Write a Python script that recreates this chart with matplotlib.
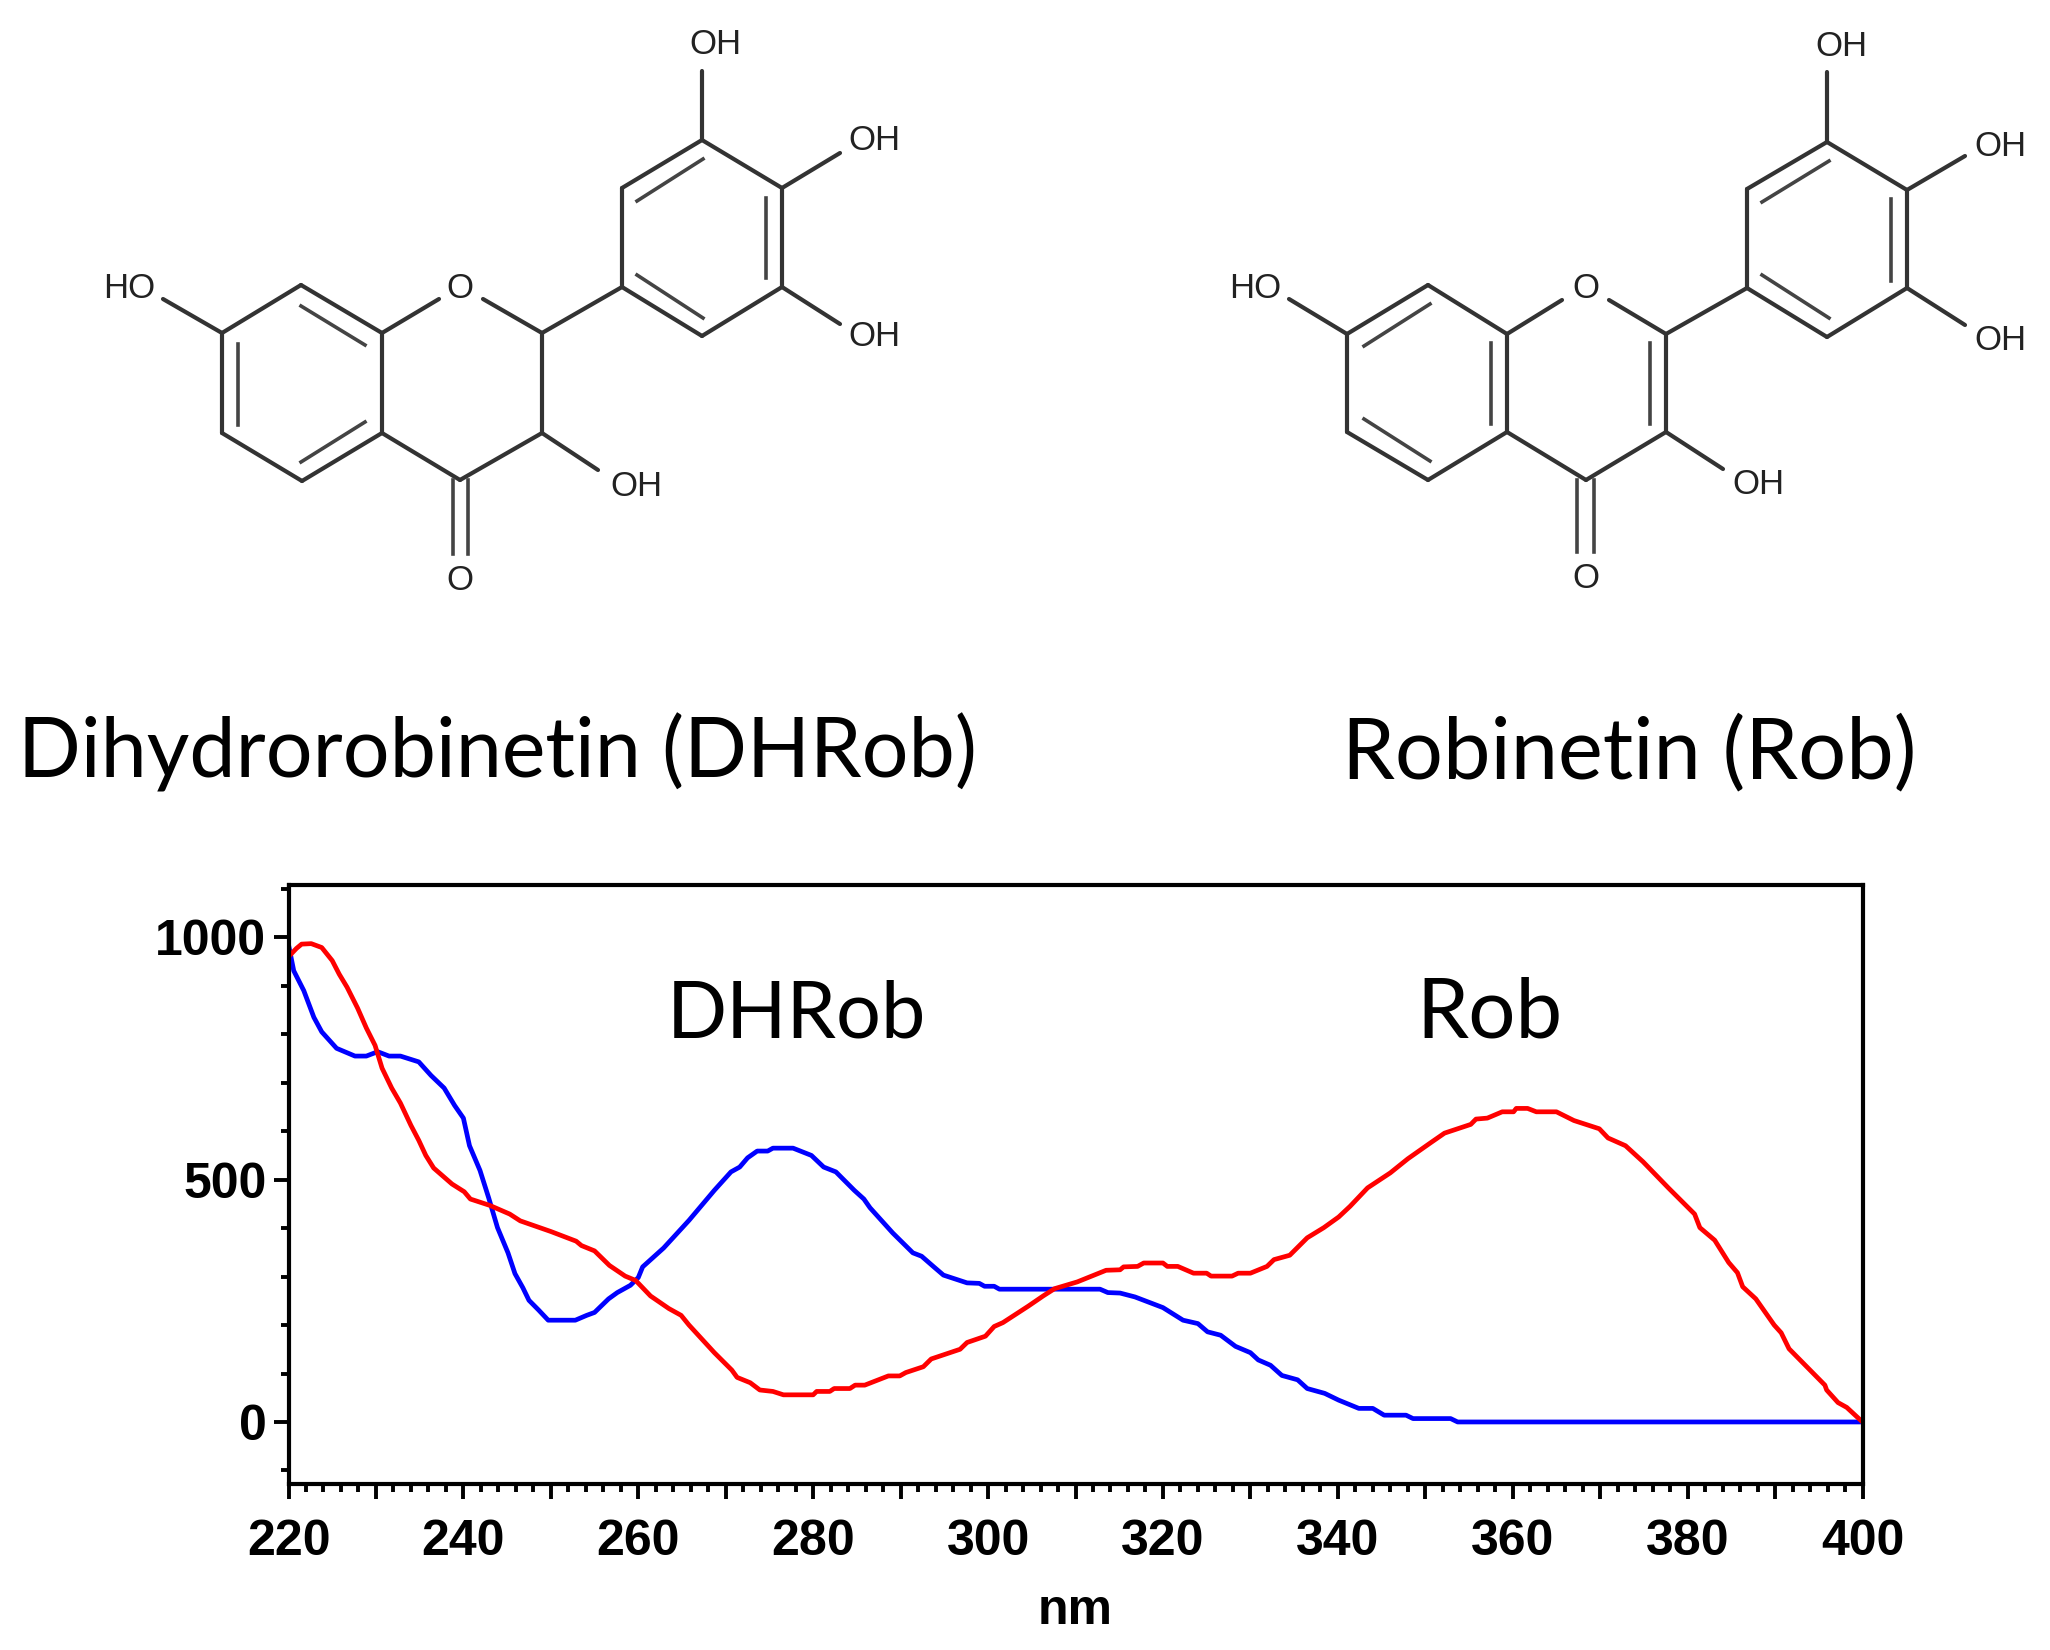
import matplotlib

matplotlib.use("Agg")
import matplotlib.pyplot as plt
from matplotlib.ticker import MultipleLocator

# spectra
dhrob_nm = [220, 220.6, 221.75, 222.9, 223.8, 225.5, 227.6, 228.9, 230.2, 231.5, 232.8, 234.9,
            236.3, 237.8, 239, 240, 240.7, 241.9, 242.9, 243.9, 245.1, 245.9, 246.8, 247.5,
            248.6, 249.7, 252.8, 254.1, 255, 256.6, 257.6, 259.1, 260, 260.5, 262.9, 265.8,
            268.7, 270.6, 271.6, 272.5, 273.6, 274.8, 275.4, 277.7, 279.8, 281.2, 282.6, 284.7,
            285.8, 286.5, 289.1, 291.4, 292.4, 293.8, 294.9, 297.6, 299, 299.6, 300.7, 301.3,
            312.8, 313.7, 315.1, 316.8, 320, 322.3, 324, 325.1, 326.6, 328.3, 330, 330.9,
            332.3, 333.6, 335.4, 336.5, 338.5, 340.1, 342.4, 344, 345.3, 347.8, 348.6, 352.9,
            353.7, 400]
dhrob_abs = [985, 931, 890, 835, 805, 771, 755, 755, 764, 755, 755, 743,
             715, 689, 653, 627, 570, 519, 462, 401, 349, 306, 277, 251,
             231, 210, 210, 220, 226, 254, 267, 282, 298, 320, 359, 416,
             478, 516, 526, 545, 559, 559, 565, 565, 550, 526, 516, 478,
             460, 442, 390, 349, 342, 320, 303, 287, 286, 280, 280, 274,
             274, 267, 266, 258, 236, 210, 203, 186, 179, 156, 143, 128,
             117, 96, 87, 69, 59, 45, 28, 28, 14, 14, 7, 7,
             0, 0]

rob_nm = [220, 220.9, 221.5, 222.6, 223.8, 225, 225.8, 226.7, 227.9, 228.9, 229.9, 230.7,
          231.8, 232.8, 234, 234.9, 235.7, 236.6, 238.7, 240.1, 240.8, 243, 245.3, 246.5,
          250, 252.9, 253.5, 255, 256.7, 258.5, 259.7, 261.4, 263.5, 264.9, 265.8, 268.7,
          270.7, 271.3, 272.8, 273.9, 275.4, 276.6, 280, 280.4, 281.9, 282.4, 284.2, 284.8,
          285.9, 288.6, 289.9, 290.6, 292.6, 293.5, 296.8, 297.6, 299.7, 300.7, 301.7, 304.6,
          306.3, 307.6, 310.2, 313.5, 315.1, 315.5, 317.1, 317.8, 320, 320.5, 321.7, 323.5,
          325, 325.5, 327.9, 328.6, 330, 331.9, 332.7, 334.5, 336.5, 338.4, 340.1, 341.4,
          343.4, 346, 348, 350.6, 352.2, 355.2, 355.8, 357.1, 358.8, 360.1, 360.4, 361.7,
          362.7, 365, 367, 369.9, 370.9, 372.9, 374.9, 377.8, 380.8, 381.4, 383.1, 384.7,
          385.7, 386.3, 387.8, 389.9, 390.7, 391.6, 395.7, 395.9, 397.2, 398.2, 400]
rob_abs = [960, 977, 986, 987, 979, 952, 924, 897, 854, 813, 777, 730,
           689, 658, 612, 581, 550, 524, 491, 475, 460, 447, 429, 415,
           393, 373, 364, 353, 323, 301, 292, 260, 234, 220, 200, 143,
           107, 92, 81, 66, 63, 56, 56, 63, 63, 69, 69, 76,
           76, 95, 95, 102, 114, 130, 150, 164, 177, 197, 205, 239,
           260, 275, 289, 313, 314, 320, 321, 328, 328, 321, 321, 307,
           307, 301, 301, 307, 307, 321, 335, 344, 380, 401, 423, 445,
           483, 514, 543, 576, 596, 614, 625, 627, 640, 640, 647, 647,
           640, 640, 622, 605, 586, 570, 537, 483, 429, 401, 375, 329,
           308, 279, 254, 200, 184, 151, 76, 66, 40, 30, 0]

x_ticks = [220, 240, 260, 280, 300, 320, 340, 360, 380, 400]
y_ticks = [0, 500, 1000]

# structures, in figure pixels
ring_bonds = [("C7", "C8"), ("C8", "C8a"), ("C8a", "O1a"), ("O1b", "C2"), ("C2", "C3"),
              ("C3", "C4"), ("C4", "C4a"), ("C4a", "C5"), ("C5", "C6"), ("C6", "C7"),
              ("C8a", "C4a"), ("C2", "C1p"), ("C1p", "C2p"), ("C2p", "C3p"), ("C3p", "C4p"),
              ("C4p", "C5p"), ("C5p", "C6p"), ("C6p", "C1p"),
              ("C7", "OH7"), ("C3", "OH3"), ("C3p", "OH3p"), ("C4p", "OH4p"), ("C5p", "OH5p")]

dhrob_atoms = {"C7": (222, 333), "C8": (301, 285), "C8a": (382, 333), "C4a": (382, 433),
               "C5": (302, 481), "C6": (222, 433), "O1a": (439, 299), "O1b": (483, 299),
               "C2": (542, 333), "C3": (542, 433), "C4": (460, 480), "C1p": (622, 287),
               "C2p": (622, 188), "C3p": (702, 140), "C4p": (782, 188), "C5p": (782, 287),
               "C6p": (702, 336), "OH7": (163, 299), "OH3": (598, 470), "OH3p": (702, 71),
               "OH4p": (840, 153), "OH5p": (840, 324)}
dhrob_inner = [((238, 344), (238, 425)), ((301, 306), (365, 345)), ((301, 462), (365, 422)),
               ((637, 201), (703, 159)), ((766, 198), (766, 278)), ((637, 275), (703, 318)),
               ((453, 480), (453, 554)), ((468, 480), (468, 554))]
dhrob_labels = [("HO", 129, 288), ("O", 460, 288), ("OH", 636, 486), ("O", 460, 581),
                ("OH", 715, 44), ("OH", 874, 140), ("OH", 874, 337)]

rob_atoms = {"C7": (1347, 334), "C8": (1428, 285), "C8a": (1507, 334), "C4a": (1507, 432),
             "C5": (1428, 480), "C6": (1347, 432), "O1a": (1562, 300), "O1b": (1609, 300),
             "C2": (1666, 334), "C3": (1666, 432), "C4": (1586, 480), "C1p": (1747, 288),
             "C2p": (1747, 189), "C3p": (1827, 142), "C4p": (1907, 190), "C5p": (1907, 288),
             "C6p": (1827, 337), "OH7": (1289, 299), "OH3": (1723, 469), "OH3p": (1827, 72),
             "OH4p": (1965, 156), "OH5p": (1965, 325)}
rob_inner = [((1364, 346), (1430, 304)), ((1364, 419), (1430, 461)), ((1491, 343), (1491, 424)),
             ((1650, 343), (1650, 424)), ((1762, 202), (1829, 161)), ((1891, 199), (1891, 281)),
             ((1762, 275), (1829, 318)), ((1577, 480), (1577, 552)), ((1594, 480), (1594, 552))]
rob_labels = [("HO", 1255, 289), ("O", 1586, 288), ("OH", 1758, 484), ("O", 1586, 578),
              ("OH", 1841, 47), ("OH", 2000, 146), ("OH", 2000, 340)]

captions = [("Dihydrorobinetin (DHRob)", 18, 778, 59.5), ("Robinetin (Rob)", 1342, 778, 61),
            ("DHRob", 667, 1037, 57), ("Rob", 1416, 1037, 60)]


def draw_molecule(axis, atoms, inner, labels):
    for start, end in ring_bonds:
        axis.plot(*zip(atoms[start], atoms[end]), color="#333333", lw=3.0,
                  solid_capstyle="round")
    for start, end in inner:
        axis.plot(*zip(start, end), color="#444444", lw=2.6)
    for text, x, y in labels:
        axis.text(x, y, text, ha="center", va="center", fontsize=25,
                  family="Liberation Sans", fontweight="normal", color="#222222")


plt.rcParams["font.family"] = "Liberation Sans"
plt.rcParams["font.weight"] = "bold"

figure = plt.figure(figsize=(20.5, 16.5), dpi=100)

left, right, top, bottom = 288.5, 1862.5, 885.0, 1484.0
axis = figure.add_axes([left / 2050, 1 - bottom / 1650, (right - left) / 2050, (bottom - top) / 1650])
axis.plot(dhrob_nm, dhrob_abs, color="#0000ff", lw=3.4)
axis.plot(rob_nm, rob_abs, color="#ff0000", lw=3.4)
axis.set_xlim(220, 400)
axis.set_ylim(-128, 1108)
axis.set_xticks(x_ticks)
axis.set_yticks(y_ticks)
axis.xaxis.set_major_locator(MultipleLocator(10))
axis.xaxis.set_minor_locator(MultipleLocator(2))
axis.yaxis.set_minor_locator(MultipleLocator(100))
axis.set_xticklabels(["" if tick % 20 else str(int(tick)) for tick in axis.get_xticks()])
axis.tick_params(axis="both", which="major", length=11, width=2.8, labelsize=36)
axis.tick_params(axis="x", which="major", pad=14)
axis.tick_params(axis="y", which="major", pad=5)
axis.tick_params(axis="both", which="minor", length=5.5, width=2.8)
axis.set_xlabel("nm", fontsize=36, fontweight="bold", labelpad=17)
for spine in axis.spines.values():
    spine.set_linewidth(3.0)

overlay = figure.add_axes([0, 0, 1, 1])
overlay.set_xlim(0, 2050)
overlay.set_ylim(1650, 0)
overlay.axis("off")
draw_molecule(overlay, dhrob_atoms, dhrob_inner, dhrob_labels)
draw_molecule(overlay, rob_atoms, rob_inner, rob_labels)
for text, x, y, size in captions:
    overlay.text(x, y, text, ha="left", va="baseline", fontsize=size, family="Lato",
                 fontweight="normal", color="black")

figure.savefig("out.png", dpi=100)
plt.close(figure)
